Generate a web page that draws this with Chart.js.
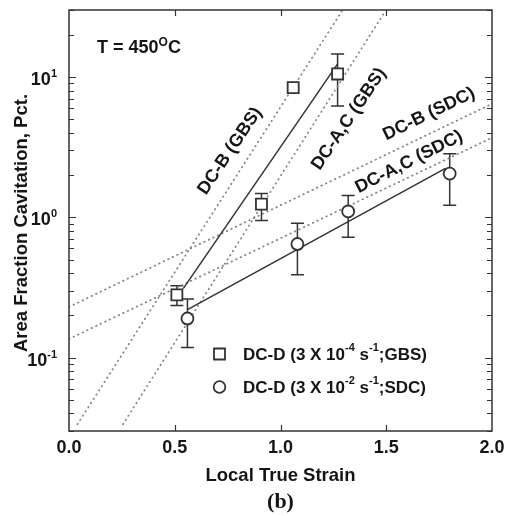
<!DOCTYPE html>
<html>
<head>
<meta charset="utf-8">
<script src="https://cdn.jsdelivr.net/npm/chart.js@4.4.1/dist/chart.umd.min.js"></script>
<style>
  html, body { margin: 0; padding: 0; background: #fff; }
</style>
</head>
<body>
<canvas id="c" width="508" height="516"></canvas>
<script>
// DC-D measured cavitation, GBS regime (squares)
const gbsStrain = [0.51, 0.91, 1.06, 1.27];
const gbsCav    = [0.28, 1.24, 8.4, 10.5];
const gbsErrLo  = [0.235, 0.95, null, 6.2];
const gbsErrHi  = [0.325, 1.48, null, 14.6];

// DC-D measured cavitation, SDC regime (circles)
const sdcStrain = [0.56, 1.08, 1.32, 1.80];
const sdcCav    = [0.19, 0.645, 1.10, 2.05];
const sdcErrLo  = [0.118, 0.39, 0.72, 1.22];
const sdcErrHi  = [0.262, 0.905, 1.43, 2.84];

// solid fits through DC-D data
const gbsFitX = [0.54, 1.27];
const gbsFitY = [0.31, 12.4];
const sdcFitX = [0.56, 1.78];
const sdcFitY = [0.22, 2.23];

// dotted reference lines, other alloys
const dcbGbsX  = [0.04, 1.29];  const dcbGbsY  = [0.0335, 29.4];
const dcacGbsX = [0.255, 1.495]; const dcacGbsY = [0.0335, 29.4];
const dcbSdcX  = [0, 2];        const dcbSdcY  = [0.23, 6.44];
const dcacSdcX = [0, 2];        const dcacSdcY = [0.136, 3.69];

const xTickVals = [0, 0.5, 1.0, 1.5, 2.0];
const yDecades  = [0.1, 1, 10];
const yDecExp   = ['-1', '0', '1'];

const gbsName = ['DC-D (3 X 10', '-4', ' s', '-1', ';GBS)'];
const sdcName = ['DC-D (3 X 10', '-2', ' s', '-1', ';SDC)'];

const FONT = '"Liberation Sans", Arial, sans-serif';
const INK = '#151515';

function pts(xs, ys) { return xs.map((x, i) => ({ x: x, y: ys[i] })); }

function dotted(xs, ys) {
  return { data: pts(xs, ys), showLine: true, pointRadius: 0, borderColor: '#858585',
           borderWidth: 1.8, borderDash: [0.5, 4.5], borderCapStyle: 'round', order: 3 };
}
function solid(xs, ys) {
  return { data: pts(xs, ys), showLine: true, pointRadius: 0, borderColor: '#333',
           borderWidth: 1.5, order: 2 };
}

// draw text runs, odd entries raised as superscripts
function supText(ctx, parts, x, y, size, supSize, rise, align) {
  const widths = parts.map((p, i) => {
    ctx.font = 'bold ' + (i % 2 ? supSize : size) + 'px ' + FONT;
    return ctx.measureText(p).width;
  });
  const total = widths.reduce((a, b) => a + b, 0);
  let cx = align === 'right' ? x - total : (align === 'center' ? x - total / 2 : x);
  ctx.textAlign = 'left';
  ctx.textBaseline = 'alphabetic';
  parts.forEach((p, i) => {
    ctx.font = 'bold ' + (i % 2 ? supSize : size) + 'px ' + FONT;
    ctx.fillText(p, cx, i % 2 ? y - rise : y);
    cx += widths[i];
  });
}

const decor = {
  id: 'decor',
  beforeDatasetsDraw(chart) {
    const ctx = chart.ctx, xs = chart.scales.x, ys = chart.scales.y;
    ctx.save();
    ctx.strokeStyle = '#333';
    ctx.lineWidth = 1.5;
    const bars = (sx, lo, hi) => sx.forEach((s, i) => {
      if (lo[i] == null) return;
      const px = xs.getPixelForValue(s);
      const y1 = ys.getPixelForValue(lo[i]), y2 = ys.getPixelForValue(hi[i]);
      ctx.beginPath();
      ctx.moveTo(px, y1); ctx.lineTo(px, y2);
      ctx.moveTo(px - 6.5, y1); ctx.lineTo(px + 6.5, y1);
      ctx.moveTo(px - 6.5, y2); ctx.lineTo(px + 6.5, y2);
      ctx.stroke();
    });
    bars(gbsStrain, gbsErrLo, gbsErrHi);
    bars(sdcStrain, sdcErrLo, sdcErrHi);
    ctx.restore();
  },
  afterDraw(chart) {
    const ctx = chart.ctx, a = chart.chartArea, xs = chart.scales.x, ys = chart.scales.y;
    ctx.save();
    ctx.strokeStyle = '#333';
    ctx.lineWidth = 1.5;
    ctx.strokeRect(a.left, a.top, a.right - a.left, a.bottom - a.top);

    // log ticks, inward on both sides
    ctx.lineWidth = 1.2;
    ctx.beginPath();
    for (let d = -2; d <= 1; d++) {
      for (let m = 1; m <= 9; m++) {
        const v = m * Math.pow(10, d);
        if (v < 0.03 || v > 30) continue;
        const py = Math.round(ys.getPixelForValue(v)) + 0.5;
        const len = m === 1 ? 7 : 5;
        ctx.moveTo(a.left, py); ctx.lineTo(a.left + len, py);
        ctx.moveTo(a.right, py); ctx.lineTo(a.right - len, py);
      }
    }
    xTickVals.slice(1, -1).forEach(v => {
      const px = Math.round(xs.getPixelForValue(v)) + 0.5;
      ctx.moveTo(px, a.bottom); ctx.lineTo(px, a.bottom - 6);
      ctx.moveTo(px, a.top); ctx.lineTo(px, a.top + 6);
    });
    ctx.stroke();

    ctx.fillStyle = INK;
    // y tick labels 10^n
    yDecades.forEach((v, i) => {
      const py = ys.getPixelForValue(v);
      supText(ctx, ['10', yDecExp[i]], 57, py + 8, 18, 11, 8, 'right');
    });

    // axis titles
    ctx.font = 'bold 18.5px ' + FONT;
    ctx.textAlign = 'center';
    ctx.textBaseline = 'alphabetic';
    ctx.fillText('Local True Strain', (a.left + a.right) / 2, 481);
    ctx.save();
    ctx.translate(27, 223);
    ctx.rotate(-Math.PI / 2);
    ctx.fillText('Area Fraction Cavitation, Pct.', 0, 0);
    ctx.restore();

    ctx.font = 'bold 22px "Liberation Serif", "Times New Roman", serif';
    ctx.fillText('(b)', (a.left + a.right) / 2, 508);

    // temperature note
    supText(ctx, ['T = 450', 'O', 'C'], 97, 53, 18, 12, 7, 'left');

    // labels along the dotted lines
    const lab = (t, x, y, deg) => {
      ctx.save();
      ctx.translate(x, y);
      ctx.rotate(deg * Math.PI / 180);
      ctx.font = 'bold 18px ' + FONT;
      ctx.textAlign = 'center';
      ctx.textBaseline = 'middle';
      ctx.fillText(t, 0, 0);
      ctx.restore();
    };
    lab('DC-B (GBS)', 230, 151, -56);
    lab('DC-A,C (GBS)', 349, 119, -56);
    lab('DC-B (SDC)', 429, 114, -26);
    lab('DC-A,C (SDC)', 409, 162, -27);

    // legend
    ctx.strokeStyle = '#333';
    ctx.lineWidth = 1.8;
    ctx.fillStyle = '#fff';
    ctx.beginPath();
    ctx.rect(214, 348.5, 11, 11);
    ctx.fill(); ctx.stroke();
    ctx.beginPath();
    ctx.arc(219.5, 387, 5.8, 0, Math.PI * 2);
    ctx.fill(); ctx.stroke();
    ctx.fillStyle = INK;
    supText(ctx, gbsName, 243, 360, 17, 11, 9, 'left');
    supText(ctx, sdcName, 243, 393, 17, 11, 9, 'left');
    ctx.restore();
  }
};

new Chart(document.getElementById('c'), {
  type: 'scatter',
  data: {
    datasets: [
      { label: 'DC-D GBS', data: pts(gbsStrain, gbsCav), pointStyle: 'rect',
        pointRadius: 7.8, pointBorderWidth: 1.8, pointBorderColor: '#333',
        pointBackgroundColor: '#fff', showLine: false, order: 0 },
      { label: 'DC-D SDC', data: pts(sdcStrain, sdcCav), pointStyle: 'circle',
        pointRadius: 6, pointBorderWidth: 1.8, pointBorderColor: '#333',
        pointBackgroundColor: '#fff', showLine: false, order: 0 },
      solid(gbsFitX, gbsFitY),
      solid(sdcFitX, sdcFitY),
      dotted(dcbGbsX, dcbGbsY),
      dotted(dcacGbsX, dcacGbsY),
      dotted(dcbSdcX, dcbSdcY),
      dotted(dcacSdcX, dcacSdcY)
    ]
  },
  options: {
    responsive: false,
    animation: false,
    devicePixelRatio: 1,
    layout: { padding: { top: 10, right: 16, left: 0, bottom: 0 } },
    plugins: { legend: { display: false }, tooltip: { enabled: false } },
    scales: {
      x: {
        type: 'linear', min: 0, max: 2,
        afterBuildTicks: s => { s.ticks = xTickVals.map(v => ({ value: v })); },
        ticks: { callback: v => v.toFixed(1), color: INK, padding: 6, maxRotation: 0,
                 font: { family: FONT, weight: 'bold', size: 18 } },
        grid: { display: false, drawTicks: false, tickLength: 0 }, border: { display: false },
        afterFit: s => { s.height = 85; s.paddingLeft = 0; s.paddingRight = 0; }
      },
      y: {
        type: 'logarithmic', min: 0.03, max: 30,
        ticks: { display: false },
        grid: { display: false }, border: { display: false },
        afterFit: s => { s.width = 69; s.paddingTop = 0; s.paddingBottom = 0; }
      }
    }
  },
  plugins: [decor]
});
</script>
</body>
</html>
